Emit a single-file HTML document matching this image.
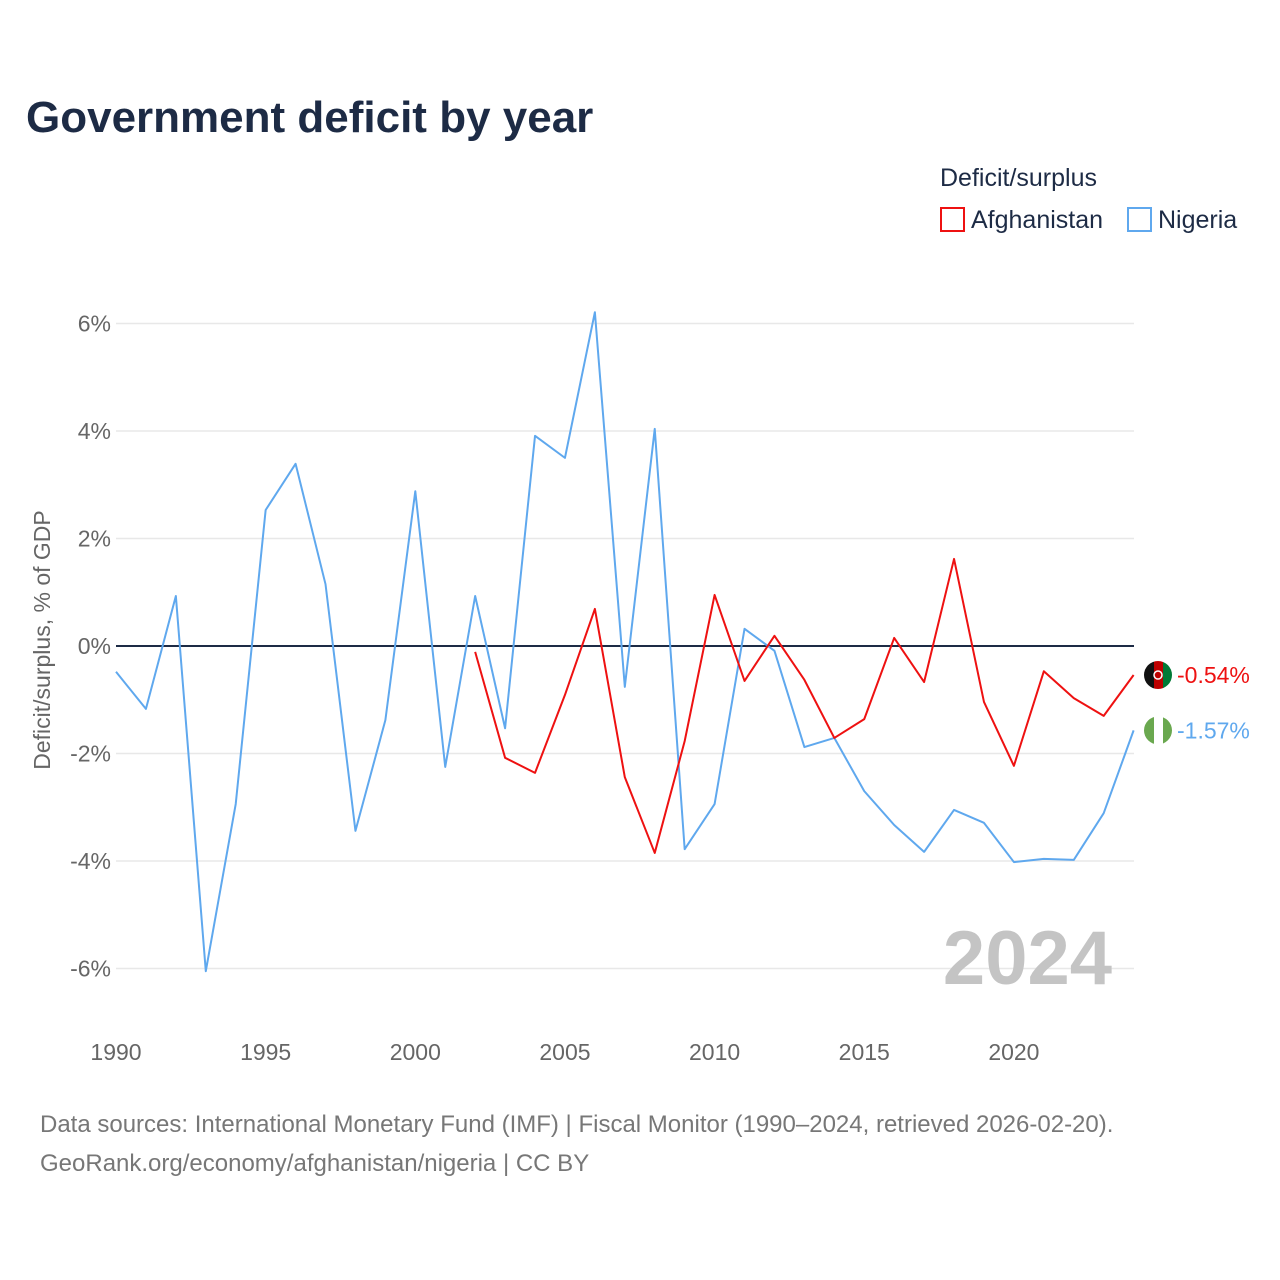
<!DOCTYPE html>
<html><head><meta charset="utf-8"><style>
body{margin:0;background:#fff;font-family:"Liberation Sans",sans-serif;}
svg{display:block}
</style></head><body>
<svg id="chart" width="1280" height="1280" viewBox="0 0 1280 1280">
<text x="26" y="132" font-size="44" font-weight="bold" fill="#1d2b45">Government deficit by year</text>
<text x="940" y="186" font-size="25" fill="#1d2b45">Deficit/surplus</text>
<g><rect x="941" y="208" width="23" height="23" fill="none" stroke="#ee1111" stroke-width="2"/><text x="971" y="228" font-size="25" fill="#1d2b45">Afghanistan</text></g>
<g><rect x="1128" y="208" width="23" height="23" fill="none" stroke="#5fa8ee" stroke-width="2"/><text x="1158" y="228" font-size="25" fill="#1d2b45">Nigeria</text></g>
<text transform="translate(50,640) rotate(-90)" text-anchor="middle" font-size="23" fill="#666">Deficit/surplus, % of GDP</text>
<g id="grid"></g><g id="series"></g>
<text x="1112" y="984" text-anchor="end" font-size="76" font-weight="bold" fill="#c4c4c4">2024</text>
<text x="40" y="1132" font-size="24" fill="#777">Data sources: International Monetary Fund (IMF) | Fiscal Monitor (1990–2024, retrieved 2026-02-20).</text>
<text x="40" y="1171" font-size="24" fill="#777">GeoRank.org/economy/afghanistan/nigeria | CC BY</text>
</svg>
<script>
const yTicks=[-6,-4,-2,0,2,4,6];
const xTicks=[1990,1995,2000,2005,2010,2015,2020];
const nigeriaYears=[1990,1991,1992,1993,1994,1995,1996,1997,1998,1999,2000,2001,2002,2003,2004,2005,2006,2007,2008,2009,2010,2011,2012,2013,2014,2015,2016,2017,2018,2019,2020,2021,2022,2023,2024];
const nigeriaValues=[-0.48,-1.17,0.93,-6.05,-2.94,2.53,3.39,1.15,-3.44,-1.38,2.88,-2.25,0.93,-1.53,3.91,3.50,6.21,-0.76,4.04,-3.78,-2.94,0.32,-0.09,-1.88,-1.71,-2.70,-3.33,-3.83,-3.05,-3.29,-4.02,-3.96,-3.98,-3.11,-1.57];
const afgYears=[2002,2003,2004,2005,2006,2007,2008,2009,2010,2011,2012,2013,2014,2015,2016,2017,2018,2019,2020,2021,2022,2023,2024];
const afgValues=[-0.11,-2.08,-2.36,-0.91,0.69,-2.44,-3.85,-1.77,0.95,-0.65,0.19,-0.63,-1.71,-1.36,0.15,-0.67,1.62,-1.04,-2.23,-0.47,-0.97,-1.30,-0.54];
const X=y=>116+(y-1990)*29.93;
const Y=v=>646-v*53.75;
const NS='http://www.w3.org/2000/svg';
const grid=document.getElementById('grid'),ser=document.getElementById('series');
function mk(tag,attrs,parent,txt){const e=document.createElementNS(NS,tag);for(const k in attrs)e.setAttribute(k,attrs[k]);if(txt!==undefined)e.textContent=txt;parent.appendChild(e);return e;}
yTicks.forEach(t=>{
 const l=mk('line',{x1:116,x2:1134,y1:Y(t),y2:Y(t),stroke:t===0?'#1d2b45':'#e8e8e8','stroke-width':t===0?2:1.5},grid);
 
 
 const tx=mk('text',{x:111,y:Y(t)+8,'text-anchor':'end','font-size':23,fill:'#666'},grid,t+'%');
 
 
});
xTicks.forEach(t=>{
 const tx=mk('text',{x:X(t),y:1060,'text-anchor':'middle','font-size':23,fill:'#666'},grid,String(t));
 
 
});
function line(years,vals,color,name){
 const p=mk('polyline',{points:years.map((y,i)=>X(y)+','+Y(vals[i])).join(' '),fill:'none',stroke:color,'stroke-width':2,'stroke-linejoin':'round'},ser);
 
 
}
line(nigeriaYears,nigeriaValues,'#5fa8ee','nigeria-line');
line(afgYears,afgValues,'#ee1111','afghanistan-line');
// end markers
const ay=Y(afgValues[afgValues.length-1]),ny=Y(nigeriaValues[nigeriaValues.length-1]);
const fx=1158;
const ag=mk('g',{},ser);


mk('clipPath',{id:'ca'},ag);mk('circle',{cx:fx,cy:ay,r:14},ag.lastChild);
const ac=mk('g',{'clip-path':'url(#ca)'},ag);
mk('rect',{x:fx-14,y:ay-14,width:10,height:28,fill:'#111'},ac);
mk('rect',{x:fx-4,y:ay-14,width:9,height:28,fill:'#be0000'},ac);
mk('rect',{x:fx+5,y:ay-14,width:9,height:28,fill:'#007a36'},ac);
mk('circle',{cx:fx,cy:ay,r:4,fill:'none',stroke:'#fff','stroke-width':1.5},ag);
const ng=mk('g',{},ser);


mk('clipPath',{id:'cn'},ng);mk('circle',{cx:fx,cy:ny,r:14},ng.lastChild);
const nc=mk('g',{'clip-path':'url(#cn)'},ng);
mk('rect',{x:fx-14,y:ny-14,width:10,height:28,fill:'#6aa84f'},nc);
mk('rect',{x:fx-4,y:ny-14,width:9,height:28,fill:'#fff'},nc);
mk('rect',{x:fx+5,y:ny-14,width:9,height:28,fill:'#6aa84f'},nc);
const al=mk('text',{x:1177,y:ay+8,'font-size':23,fill:'#ee1111'},ser,afgValues[afgValues.length-1].toFixed(2)+'%');


const nl=mk('text',{x:1177,y:ny+8,'font-size':23,fill:'#5fa8ee'},ser,nigeriaValues[nigeriaValues.length-1].toFixed(2)+'%');


</script>
</body></html>
